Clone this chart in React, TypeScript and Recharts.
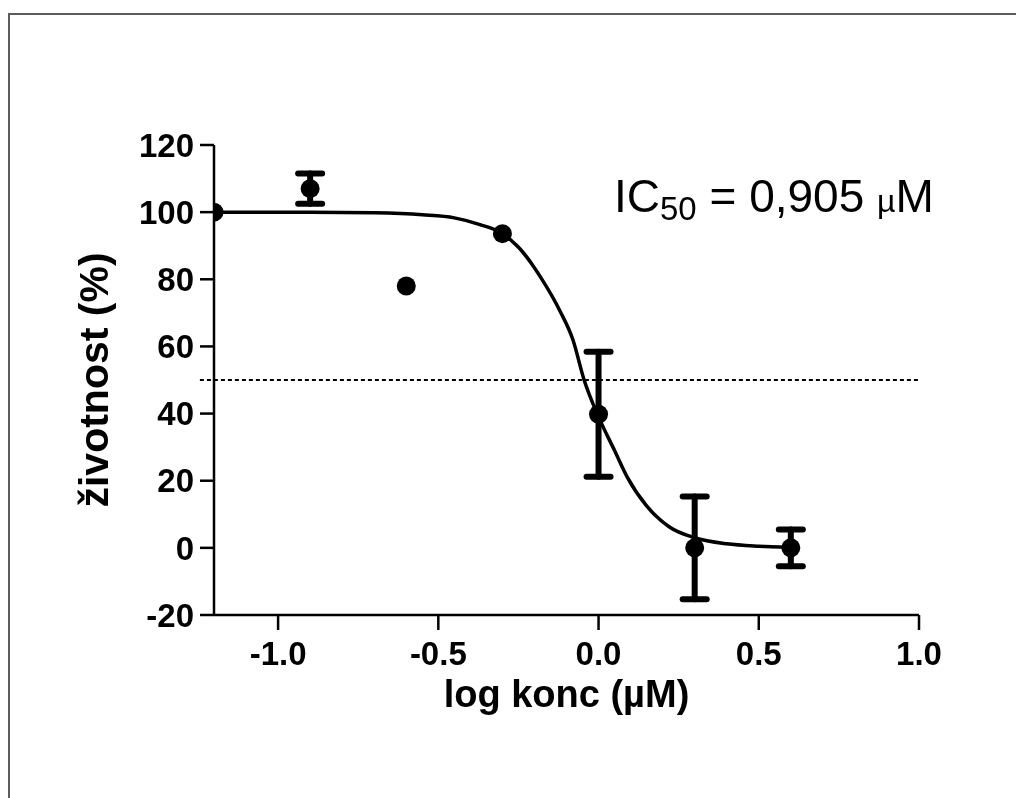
import React from "react"
import {
  ComposedChart,
  Line,
  Scatter,
  ErrorBar,
  XAxis,
  YAxis,
  ReferenceLine,
  Label,
  Customized,
} from "recharts"

// measured points (mean, error)
const logConc = [-1.2, -0.9, -0.6, -0.3, 0.0, 0.3, 0.6]
const viability = [100, 107, 78, 93.6, 39.8, 0, 0]
const errors = [0, 4.5, 0, 0, 18.6, 15.3, 5.5]

// fitted curve
const curveX = [-1.2, -0.9, -0.7, -0.55, -0.45, -0.37, -0.3, -0.24, -0.18, -0.12, -0.08, -0.045, 0, 0.05, 0.09, 0.15, 0.22, 0.3, 0.4, 0.5, 0.6]
const curveY = [100, 100, 99.8, 99.2, 98.3, 96.3, 93.6, 88.5, 80.5, 70.5, 62, 50, 39, 29, 21, 12.5, 6.3, 3, 1.2, 0.5, 0.2]

const xTicks = [-1.0, -0.5, 0.0, 0.5, 1.0]
const yTicks = [-20, 0, 20, 40, 60, 80, 100, 120]

const points = logConc.map((x, i) => ({ x, y: viability[i], err: errors[i] }))
const curve = curveX.map((x, i) => ({ x, y: curveY[i] }))

const FONT = "'Liberation Sans', Arial, sans-serif"

const Dot = (props: any) => {
  const { cx, cy } = props
  if (cx == null || cy == null) return null
  return <circle cx={cx} cy={cy} r={9.5} fill="#000" />
}

const Ic50Text = () => (
  <text x={606} y={204} fontFamily={FONT} fontSize={46} fill="#000">
    IC
    <tspan fontSize={33} dy={8}>50</tspan>
    <tspan dy={-8}> = 0,905 </tspan>
    <tspan fontSize={32}>µ</tspan>
    <tspan>M</tspan>
  </text>
)

export default function App() {
  return (
    <div style={{ position: "relative" }}>
      <div
        style={{
          position: "fixed",
          left: 8,
          top: 13,
          right: -10,
          bottom: -10,
          borderTop: "2px solid #5c5c5c",
          borderLeft: "2px solid #5c5c5c",
          pointerEvents: "none",
        }}
      />
      <ComposedChart
        width={1000}
        height={782}
        margin={{ top: 137, right: 89, left: 0, bottom: 0 }}
      >
        <XAxis
          type="number"
          dataKey="x"
          domain={[-1.2, 1.0]}
          ticks={xTicks}
          tickFormatter={(v: number) => v.toFixed(1)}
          allowDataOverflow
          height={175}
          tickSize={15}
          tickMargin={12}
          axisLine={{ stroke: "#000", strokeWidth: 2.5 }}
          tickLine={{ stroke: "#000", strokeWidth: 2.5 }}
          tick={{ fill: "#000", fontSize: 33, fontWeight: "bold", fontFamily: FONT }}
        >
          <Label
            content={(p: any) => {
              const vb = p.viewBox
              return (
                <text
                  x={vb.x + vb.width / 2}
                  y={699}
                  textAnchor="middle"
                  fontFamily={FONT}
                  fontWeight="bold"
                  fontSize={38}
                  fill="#000"
                >
                  log konc (µM)
                </text>
              )
            }}
          />
        </XAxis>
        <YAxis
          type="number"
          domain={[-20, 120]}
          ticks={yTicks}
          allowDataOverflow
          width={206}
          tickSize={14}
          tickMargin={6}
          axisLine={{ stroke: "#000", strokeWidth: 2.5 }}
          tickLine={{ stroke: "#000", strokeWidth: 2.5 }}
          tick={{ fill: "#000", fontSize: 33, fontWeight: "bold", fontFamily: FONT }}
        >
          <Label
            content={() => (
              <text
                x={100}
                y={372}
                textAnchor="middle"
                transform="rotate(-90, 100, 372)"
                fontFamily={FONT}
                fontWeight="bold"
                fontSize={41}
                fill="#000"
              >
                životnost (%)
              </text>
            )}
          />
        </YAxis>
        <ReferenceLine
          segment={[{ x: -1.244, y: 50 }, { x: 1.0, y: 50 }]}
          stroke="#000"
          strokeWidth={2}
          strokeDasharray="4 3"
          ifOverflow="visible"
        />
        <Line
          data={curve}
          dataKey="y"
          type="monotone"
          stroke="#000"
          strokeWidth={3.5}
          dot={false}
          activeDot={false}
          isAnimationActive={false}
        />
        <Scatter data={points} dataKey="y" shape={Dot} isAnimationActive={false}>
          <ErrorBar
            dataKey="err"
            direction="y"
            width={12}
            stroke="#000"
            strokeWidth={6}
            strokeLinecap="round"
            isAnimationActive={false}
          />
        </Scatter>
        <Customized component={Ic50Text} />
      </ComposedChart>
    </div>
  )
}
